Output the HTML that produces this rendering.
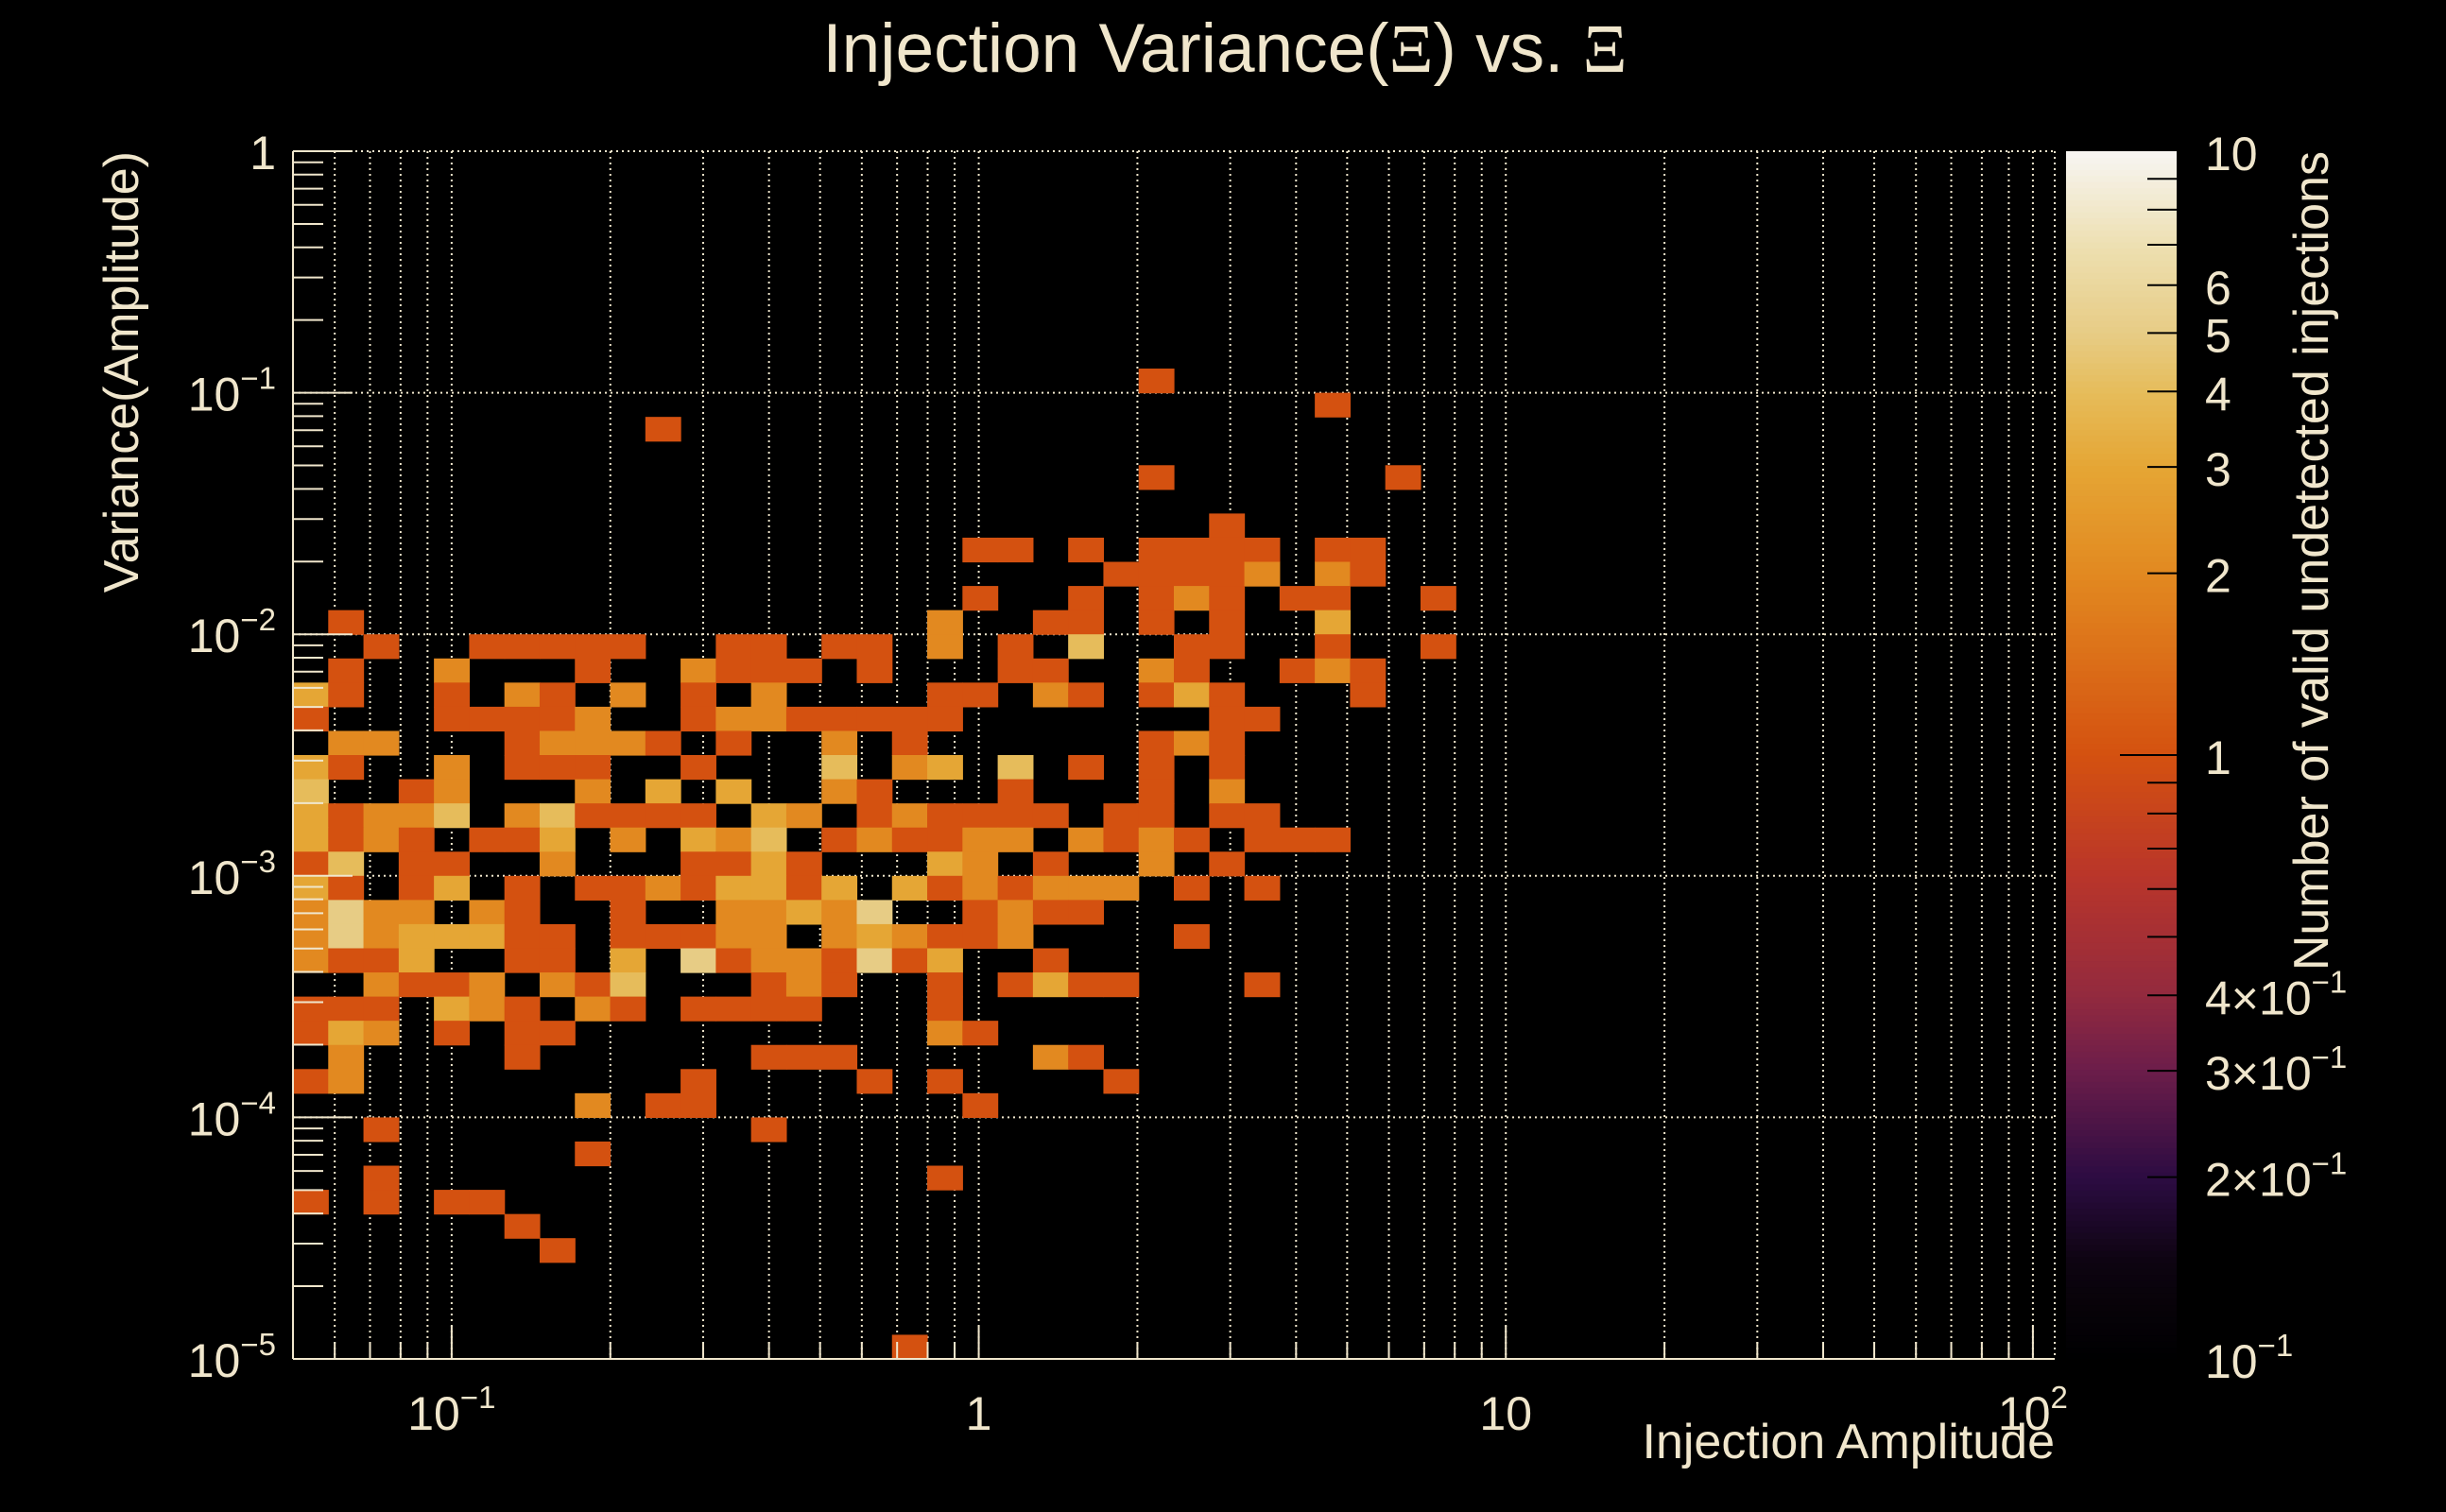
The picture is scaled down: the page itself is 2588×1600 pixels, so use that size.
<!DOCTYPE html>
<html><head><meta charset="utf-8"><title>Injection Variance vs Xi</title>
<style>html,body{margin:0;padding:0;background:#000;}svg{display:block;}</style></head>
<body>
<svg id="chart" xmlns="http://www.w3.org/2000/svg" width="2588" height="1600" viewBox="0 0 2588 1600" style="background:#000;font-family:'Liberation Sans',sans-serif;">
<rect x="0" y="0" width="2588" height="1600" fill="#000"/>
<g id="grid"></g>
<g id="cellsG"></g>
<g id="axes"></g>
<g id="cbar"></g>
<text x="1296" y="76" text-anchor="middle" font-size="73" fill="#f0e6cc">Injection Variance(<tspan font-family="'Liberation Serif',serif">Ξ</tspan>) vs. <tspan font-family="'Liberation Serif',serif">Ξ</tspan></text>
<text transform="translate(146,160) rotate(-90)" text-anchor="end" font-size="52" fill="#f0e6cc">Variance(Amplitude)</text>
<text x="2174" y="1543" text-anchor="end" font-size="52" fill="#f0e6cc">Injection Amplitude</text>
<text transform="translate(2463,160) rotate(-90)" text-anchor="end" font-size="52" fill="#f0e6cc">Number of valid undetected injections</text>
</svg>
<script>
// ---- data ----
const xRange = [0.05, 110];
const yRange = [1e-5, 1];
const zRange = [0.1, 10];
const nBinsX = 50;
const nBinsY = 50;
const xTickValues = [0.1, 1, 10, 100];
const xTickLabels = [["10","−1"], ["1",""], ["10",""], ["10","2"]];
const yTickValues = [1, 0.1, 0.01, 0.001, 0.0001, 0.00001];
const yTickLabels = [["1",""], ["10","−1"], ["10","−2"], ["10","−3"], ["10","−4"], ["10","−5"]];
const zTickValues = [10, 6, 5, 4, 3, 2, 1, 0.4, 0.3, 0.2, 0.1];
const zTickLabels = [["10",""],["6",""],["5",""],["4",""],["3",""],["2",""],["1",""],["4×10","−1"],["3×10","−1"],["2×10","−1"],["10","−1"]];
// cells: [xBin, yBin (from bottom), count]
const cells = [
[24,40,1],
[29,39,1],
[10,38,1],
[24,36,1],[31,36,1],
[26,34,1],
[19,33,1],[20,33,1],[22,33,1],[24,33,1],[25,33,1],[26,33,1],[27,33,1],[29,33,1],[30,33,1],
[23,32,1],[24,32,1],[25,32,1],[26,32,1],[27,32,2],[29,32,2],[30,32,1],
[19,31,1],[22,31,1],[24,31,1],[25,31,2],[26,31,1],[28,31,1],[29,31,1],[32,31,1],
[1,30,1],[18,30,2],[21,30,1],[22,30,1],[24,30,1],[26,30,1],[29,30,3],
[2,29,1],[5,29,1],[6,29,1],[7,29,1],[8,29,1],[9,29,1],[12,29,1],[13,29,1],[15,29,1],[16,29,1],[18,29,2],[20,29,1],[22,29,4],[25,29,1],[26,29,1],[29,29,1],[32,29,1],
[1,28,1],[4,28,2],[8,28,1],[11,28,2],[12,28,1],[13,28,1],[14,28,1],[16,28,1],[20,28,1],[21,28,1],[24,28,2],[25,28,1],[28,28,1],[29,28,2],[30,28,1],
[0,27,3],[1,27,1],[4,27,1],[6,27,2],[7,27,1],[9,27,2],[11,27,1],[13,27,2],[18,27,1],[19,27,1],[21,27,2],[22,27,1],[24,27,1],[25,27,3],[26,27,1],[30,27,1],
[0,26,1],[4,26,1],[5,26,1],[6,26,1],[7,26,1],[8,26,2],[11,26,1],[12,26,2],[13,26,2],[14,26,1],[15,26,1],[16,26,1],[17,26,1],[18,26,1],[26,26,1],[27,26,1],
[1,25,2],[2,25,2],[6,25,1],[7,25,2],[8,25,2],[9,25,2],[10,25,1],[12,25,1],[15,25,2],[17,25,1],[24,25,1],[25,25,2],[26,25,1],
[0,24,3],[1,24,1],[4,24,2],[6,24,1],[7,24,1],[8,24,1],[11,24,1],[15,24,4],[17,24,2],[18,24,3],[20,24,4],[22,24,1],[24,24,1],[26,24,1],
[0,23,4],[3,23,1],[4,23,2],[8,23,2],[10,23,3],[12,23,3],[15,23,2],[16,23,1],[20,23,1],[24,23,1],[26,23,2],
[0,22,3],[1,22,1],[2,22,2],[3,22,2],[4,22,4],[6,22,2],[7,22,4],[8,22,1],[9,22,1],[10,22,1],[11,22,1],[13,22,3],[14,22,2],[16,22,1],[17,22,2],[18,22,1],[19,22,1],[20,22,1],[21,22,1],[23,22,1],[24,22,1],[26,22,1],[27,22,1],
[0,21,3],[1,21,1],[2,21,2],[3,21,1],[5,21,1],[6,21,1],[7,21,3],[9,21,2],[11,21,3],[12,21,2],[13,21,4],[15,21,1],[16,21,2],[17,21,1],[18,21,1],[19,21,2],[20,21,2],[22,21,2],[23,21,1],[24,21,2],[25,21,1],[27,21,1],[28,21,1],[29,21,1],
[0,20,1],[1,20,4],[3,20,1],[4,20,1],[7,20,2],[11,20,1],[12,20,1],[13,20,3],[14,20,1],[18,20,3],[19,20,2],[21,20,1],[24,20,2],[26,20,1],
[0,19,3],[1,19,1],[3,19,1],[4,19,3],[6,19,1],[8,19,1],[9,19,1],[10,19,2],[11,19,1],[12,19,3],[13,19,3],[14,19,1],[15,19,3],[17,19,3],[18,19,1],[19,19,2],[20,19,1],[21,19,2],[22,19,2],[23,19,2],[25,19,1],[27,19,1],
[0,18,2],[1,18,5],[2,18,2],[3,18,2],[5,18,2],[6,18,1],[9,18,1],[12,18,2],[13,18,2],[14,18,3],[15,18,2],[16,18,5],[19,18,1],[20,18,2],[21,18,1],[22,18,1],
[0,17,2],[1,17,5],[2,17,2],[3,17,3],[4,17,3],[5,17,3],[6,17,1],[7,17,1],[9,17,1],[10,17,1],[11,17,1],[12,17,2],[13,17,2],[15,17,2],[16,17,3],[17,17,2],[18,17,1],[19,17,1],[20,17,2],[25,17,1],
[0,16,2],[1,16,1],[2,16,1],[3,16,3],[6,16,1],[7,16,1],[9,16,3],[11,16,5],[12,16,1],[13,16,2],[14,16,2],[15,16,1],[16,16,5],[17,16,1],[18,16,3],[21,16,1],
[2,15,2],[3,15,1],[4,15,1],[5,15,2],[7,15,2],[8,15,1],[9,15,4],[13,15,1],[14,15,2],[15,15,1],[18,15,1],[20,15,1],[21,15,3],[22,15,1],[23,15,1],[27,15,1],
[0,14,1],[1,14,1],[2,14,1],[4,14,3],[5,14,2],[6,14,1],[8,14,2],[9,14,1],[11,14,1],[12,14,1],[13,14,1],[14,14,1],[18,14,1],
[0,13,1],[1,13,3],[2,13,2],[4,13,1],[6,13,1],[7,13,1],[18,13,2],[19,13,1],
[1,12,2],[6,12,1],[13,12,1],[14,12,1],[15,12,1],[21,12,2],[22,12,1],
[0,11,1],[1,11,2],[11,11,1],[16,11,1],[18,11,1],[23,11,1],
[8,10,2],[10,10,1],[11,10,1],[19,10,1],
[2,9,1],[13,9,1],
[8,8,1],
[2,7,1],[18,7,1],
[0,6,1],[2,6,1],[4,6,1],[5,6,1],
[6,5,1],
[7,4,1],
[17,0,1]
];
// ---- layout ----
const PL = 310, PR = 2174, PT = 160, PB = 1438;
const CBL = 2186, CBR = 2303;
const NS = 'http://www.w3.org/2000/svg';
const INK = '#f0e6cc';
const LX0 = Math.log10(xRange[0]), LX1 = Math.log10(xRange[1]);
const LY0 = Math.log10(yRange[0]), LY1 = Math.log10(yRange[1]);
const LZ0 = Math.log10(zRange[0]), LZ1 = Math.log10(zRange[1]);
function xLog(l){ return PL + (l - LX0) / (LX1 - LX0) * (PR - PL); }
function yLog(l){ return PB - (l - LY0) / (LY1 - LY0) * (PB - PT); }
function xScale(v){ return xLog(Math.log10(v)); }
function yScale(v){ return yLog(Math.log10(v)); }
function zScale(v){ return PB - (Math.log10(v) - LZ0) / (LZ1 - LZ0) * (PB - PT); }
const stops = [[0,'#000000'],[0.08,'#0d0410'],[0.15,'#2c0c42'],[0.24,'#6c1d4a'],[0.30,'#922a3e'],[0.40,'#b9352a'],[0.5,'#d45110'],[0.65,'#e28920'],[0.74,'#e5a635'],[0.80,'#e6bc5a'],[0.85,'#e7cc85'],[0.92,'#eddfb0'],[1,'#f7f5f2']];
function hex(c){ return [parseInt(c.substr(1,2),16),parseInt(c.substr(3,2),16),parseInt(c.substr(5,2),16)]; }
function cmap(t){
  t = Math.max(0, Math.min(1, t));
  for (let i = 1; i < stops.length; i++) {
    if (t <= stops[i][0]) {
      const a = stops[i-1], b = stops[i];
      const f = (t - a[0]) / (b[0] - a[0]);
      const ca = hex(a[1]), cb = hex(b[1]);
      return 'rgb(' + ca.map((v,k)=>Math.round(v + (cb[k]-v)*f)).join(',') + ')';
    }
  }
  return stops[stops.length-1][1];
}
function zColor(v){ return cmap((Math.log10(v) - LZ0) / (LZ1 - LZ0)); }
function mk(tag, attrs, parent){
  const e = document.createElementNS(NS, tag);
  for (const k in attrs) e.setAttribute(k, attrs[k]);
  parent.appendChild(e);
  return e;
}
function label(parent, x, y, parts, size, anchor){
  const t = mk('text', {x:x, y:y, 'font-size':size, fill:INK, 'text-anchor':anchor}, parent);
  t.appendChild(document.createTextNode(parts[0]));
  if (parts[1]) {
    const s = mk('tspan', {'font-size': Math.round(size*0.66), dy: -Math.round(size*0.45)}, t);
    s.textContent = parts[1];
  }
  return t;
}
const grid = document.getElementById('grid');
const cellsG = document.getElementById('cellsG');
const axes = document.getElementById('axes');
const cbar = document.getElementById('cbar');

const dash = {stroke:INK, 'stroke-width':2, 'stroke-dasharray':'2 4'};
for (let d = -2; d <= 2; d++) {
  for (let m = 1; m <= 9; m++) {
    const v = m * Math.pow(10, d);
    if (v <= xRange[0] * 1.0001 || v > xRange[1]) continue;
    const x = xScale(v);
    const l = mk('line', Object.assign({x1:x, x2:x, y1:PT, y2:PB}, dash), grid);
    
    
  }
}
for (let d = -5; d <= 0; d++) {
  const y = yScale(Math.pow(10, d));
  const l = mk('line', Object.assign({x1:PL, x2:PR, y1:y, y2:y}, dash), grid);
  
  
}
const rb = mk('line', Object.assign({x1:PR, x2:PR, y1:PT, y2:PB}, dash), grid);



const dX = (LX1 - LX0) / nBinsX, dY = (LY1 - LY0) / nBinsY;
cells.forEach(function(c){
  const x0 = xLog(LX0 + c[0]*dX), x1 = xLog(LX0 + (c[0]+1)*dX);
  const y1 = yLog(LY0 + c[1]*dY), y0 = yLog(LY0 + (c[1]+1)*dY);
  const r = mk('rect', {x:x0.toFixed(2), y:y0.toFixed(2), width:(x1-x0+0.6).toFixed(2), height:(y1-y0+0.6).toFixed(2), fill:zColor(c[2])}, cellsG);
  
  
});

const ax1 = mk('line', {x1:PL, x2:PL, y1:PT, y2:PB, stroke:INK, 'stroke-width':2}, axes);


const ax2 = mk('line', {x1:PL, x2:PR, y1:PB, y2:PB, stroke:INK, 'stroke-width':2}, axes);


for (let d = -5; d <= 0; d++) {
  for (let m = 1; m <= 9; m++) {
    const v = m * Math.pow(10, d);
    if (v > yRange[1] * 1.0001) continue;
    const y = yScale(v);
    const len = m === 1 ? 63 : 32;
    const t = mk('line', {x1:PL, x2:PL+len, y1:y, y2:y, stroke:INK, 'stroke-width':2}, axes);
    
    
  }
}
for (let d = -2; d <= 2; d++) {
  for (let m = 1; m <= 9; m++) {
    const v = m * Math.pow(10, d);
    if (v < xRange[0] || v > xRange[1]) continue;
    const x = xScale(v);
    const len = m === 1 ? 35 : 18;
    const t = mk('line', {x1:x, x2:x, y1:PB, y2:PB-len, stroke:INK, 'stroke-width':2}, axes);
    
    
  }
}
xTickValues.forEach(function(v, i){
  const t = label(axes, xScale(v), 1513, xTickLabels[i], 50, 'middle');
  
  
});
yTickValues.forEach(function(v, i){
  const t = label(axes, 292, yScale(v) + 19, yTickLabels[i], 50, 'end');
  
  
});

const steps = 200;
for (let i = 0; i < steps; i++) {
  const l0 = LZ0 + (LZ1 - LZ0) * i / steps, l1 = LZ0 + (LZ1 - LZ0) * (i+1) / steps;
  const yb = zScale(Math.pow(10, l0)), yt = zScale(Math.pow(10, l1));
  const r = mk('rect', {x:CBL, y:yt.toFixed(2), width:CBR-CBL, height:(yb-yt+0.8).toFixed(2), fill:cmap(((l0+l1)/2 - LZ0)/(LZ1-LZ0))}, cbar);
  
  
}
for (let d = -1; d <= 0; d++) {
  for (let m = 1; m <= 9; m++) {
    const v = m * Math.pow(10, d);
    if (v <= zRange[0] * 1.0001) continue;
    const y = zScale(v);
    const len = m === 1 ? 60 : 31;
    const t = mk('line', {x1:CBR-len, x2:CBR, y1:y, y2:y, stroke:'#000', 'stroke-width':2}, cbar);
    
    
  }
}
zTickValues.forEach(function(v, i){
  const t = label(cbar, 2333, zScale(v) + 20, zTickLabels[i], 50, 'start');
  
  
});
</script>
</body></html>
